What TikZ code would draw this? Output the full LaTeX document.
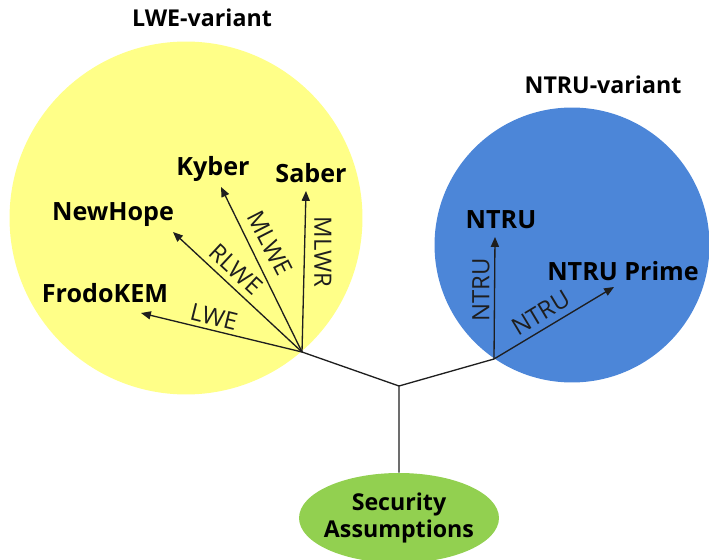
\documentclass[tikz,border=0pt]{standalone}
\usepackage{fontspec}
\setmainfont{Open Sans}
\usetikzlibrary{arrows.meta,shapes.geometric}
\definecolor{lweyellow}{RGB}{255,255,136}
\definecolor{ntrublue}{RGB}{76,134,216}
\definecolor{assumgreen}{RGB}{146,208,80}
\definecolor{linegray}{RGB}{30,30,30}

\begin{document}
\begin{tikzpicture}[x=0.02cm,y=-0.02cm,
    scheme/.style={font=\bfseries\fontsize{14.3}{16}\selectfont,inner sep=0pt},
    title/.style={font=\bfseries\fontsize{13.2}{15.5}\selectfont,inner sep=0pt},
    hard/.style={font=\fontsize{13.6}{16}\selectfont,inner sep=0pt,text=linegray},
    link/.style={linegray,line width=0.75pt},
    reduce/.style={link,-{Triangle[length=5.6pt,width=4.6pt]}}]

                \useasboundingbox (0,0) rectangle (709,560);

                \node[style={fill=lweyellow,circle,inner sep=0pt,minimum size=7.06cm}] (lwecirc) at (186,218){};
                \node[style={fill=ntrublue,circle,inner sep=0pt,minimum size=5.5cm}] (ntrucirc) at (572,245){};
                \node[style={fill=assumgreen,ellipse,inner sep=0pt,minimum width=4cm,minimum height=1.8cm}] (assum) at (399,518){};
                \node[title,align=center] at (assum) {Security\\Assumptions};

                \node[title] (lwetitle) at (202,18){LWE-variant};
                \node[title] (ntrutitle) at (603,85){NTRU-variant};

                \coordinate (lwe) at (302,352);
                \coordinate (ntru) at (494,359);
                \coordinate (hub) at (399,386);

                \coordinate (frodotip) at (141,313);
                \coordinate (newhopetip) at (173,232);
                \coordinate (kybertip) at (221,187);
                \coordinate (sabertip) at (306,191);
                \coordinate (ntrutip) at (495,237);
                \coordinate (primetip) at (614,287);

                \node[scheme] (frodo) at (105,293){FrodoKEM};
                \node[scheme] (newhope) at (113,215){NewHope};
                \node[scheme] (kyber) at (213,169){Kyber};
                \node[scheme] (saber) at (311,173){Saber};
                \node[scheme] (ntrunode) at (501,220){NTRU};
                \node[scheme] (prime) at (623,271){NTRU Prime};

                \node[hard,rotate=-14] (lwelbl) at (214,317){LWE};
                \node[hard,rotate=-43] (rlwelbl) at (236,269){RLWE};
                \node[hard,rotate=-63] (mlwelbl) at (270,243){MLWE};
                \node[hard,rotate=-90] (mlwrlbl) at (323,252){MLWR};
                \node[hard,rotate=90] (ntrulbl) at (481,290){NTRU};
                \node[hard,rotate=31] (primelbl) at (541,313){NTRU};

                \draw[link] (lwe)--(hub) (ntru)--(hub) (hub)--(assum);
                \draw[reduce] (lwe)--(frodotip);
                \draw[reduce] (lwe)--(newhopetip);
                \draw[reduce] (lwe)--(kybertip);
                \draw[reduce] (lwe)--(sabertip);
                \draw[reduce] (ntru)--(ntrutip);
                \draw[reduce] (ntru)--(primetip);

\end{tikzpicture}
\end{document}
